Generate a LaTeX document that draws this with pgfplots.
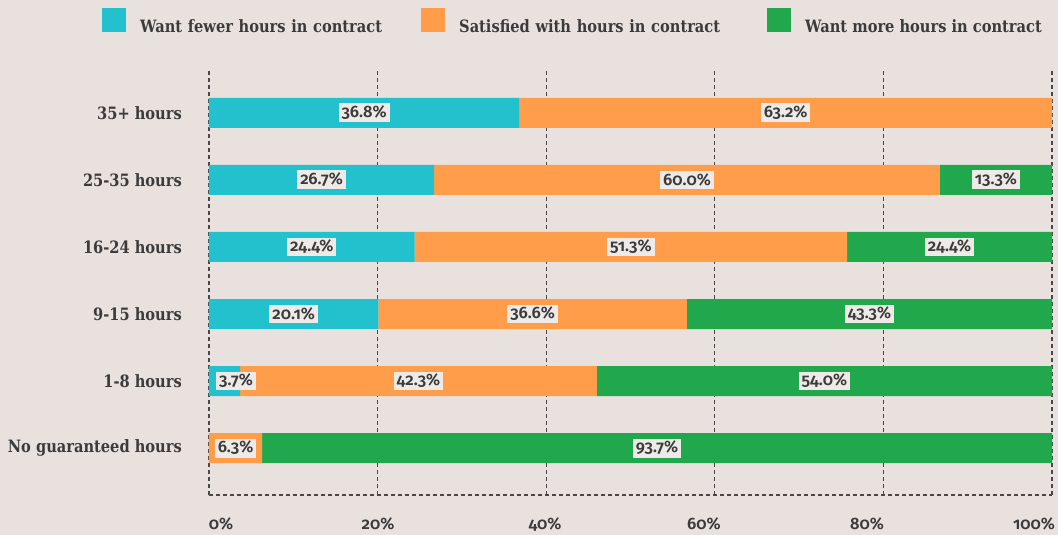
\documentclass[border=0pt]{standalone}
\usepackage{fontspec}
\setmainfont{DejaVu Serif}[FakeStretch=0.86]
\newfontfamily\numfont{Fira Sans SemiBold}[Numbers=OldStyle]
\usepackage{pgfplots}
\pgfplotsset{compat=1.18}

\definecolor{bg}{HTML}{E8E1DE}
\definecolor{txt}{HTML}{3B3B3B}
\definecolor{gridc}{HTML}{484848}
\definecolor{fewer}{HTML}{22C1CD}
\definecolor{satis}{HTML}{FF9D4A}
\definecolor{more}{HTML}{22A84C}
\definecolor{lblbg}{HTML}{EEEAE7}

% share of workers by contracted hours, stacked to 100
\pgfplotstableread{
y  fewer satis more
0  0     6.3   93.7
1  3.7   42.3  54.0
2  20.1  36.6  43.3
3  24.4  51.3  24.4
4  26.7  60.0  13.3
5  36.8  63.2  0
}\hours

\pgfplotsset{
  base/.style={
    scale only axis, width=843bp, height=425bp,
    xmin=0, xmax=100, ymin=-0.7, ymax=5.64,
  },
}

\begin{document}
\begin{tikzpicture}
\fill[bg] (-209bp,-40bp) rectangle (849bp,495bp);
\useasboundingbox (-209bp,-40bp) rectangle (849bp,495bp);

\begin{axis}[base,
  xbar stacked, bar width=30bp,
  separate axis lines,
  axis x line*=bottom, axis y line*=left,
  x axis line style={gridc, line width=1.3bp, dash pattern=on 4bp off 3bp, -},
  y axis line style={draw=none},
  xmajorgrids,
  major grid style={gridc, line width=1.3bp, dash pattern=on 4bp off 3bp},
  major tick length=0pt,
  xtick={0,20,40,60,80,100},
  xticklabels={},
  % the tick labels are spread edge to edge, a little off the grid lines
  extra x ticks={1.42,20.05,39.86,58.7,78.05,97.86},
  extra x tick labels={0\%,20\%,40\%,60\%,80\%,100\%},
  extra x tick style={grid=none, major tick length=0pt},
  xticklabel style={font=\numfont\fontsize{16.5bp}{16.5bp}\selectfont, text=txt,
    anchor=base, inner sep=0pt, yshift=-34bp},
  ytick={0,...,5},
  yticklabels={No guaranteed hours,1-8 hours,9-15 hours,16-24 hours,25-35 hours,35+ hours},
  yticklabel style={font=\bfseries\fontsize{17bp}{20bp}\selectfont, text=txt,
    anchor=east, inner sep=0pt, xshift=-27bp},
  legend columns=3,
  legend style={draw=none, fill=none, at={(axis description cs:-0.1269,1.146)},
    anchor=north west, inner sep=0pt,
    nodes={inner sep=0pt, text=txt, font=\bfseries\fontsize{17bp}{20bp}\selectfont},
    /tikz/every odd column/.append style={column sep=14bp}},
  legend image code/.code={\fill[#1] (0bp,-5bp) rectangle (24bp,19bp);},
]
\addplot[fill=fewer, draw=none] table[x=fewer, y=y] {\hours};
\addlegendentry[text width=281bp, align=left]{Want fewer hours in contract}
\addplot[fill=satis, draw=none] table[x=satis, y=y] {\hours};
\addlegendentry[text width=308bp, align=left]{Satisfied with hours in contract}
\addplot[fill=more, draw=none] table[x=more, y=y] {\hours};
\addlegendentry[align=left]{Want more hours in contract}
\end{axis}

% value labels at the middle of each segment
\begin{axis}[base, hide axis]
\addplot[only marks, mark=*, mark size=0pt, mark options={draw=none, fill=none},
  point meta=explicit symbolic, nodes near coords,
  nodes near coords style={anchor=center, fill=lblbg, text=txt,
    font=\numfont\fontsize{16.5bp}{16.5bp}\selectfont,
    inner xsep=3bp, inner ysep=2.5bp}]
coordinates {
  (18.4,5) [36.8\%]  (68.4,5) [63.2\%]
  (13.35,4) [26.7\%] (56.7,4) [60.0\%] (93.35,4) [13.3\%]
  (12.2,3) [24.4\%]  (50.05,3) [51.3\%] (87.85,3) [24.4\%]
  (10.05,2) [20.1\%] (38.4,2) [36.6\%] (78.35,2) [43.3\%]
  (3.2,1) [3.7\%]    (24.85,1) [42.3\%] (73.0,1) [54.0\%]
  (3.15,0) [6.3\%]   (53.15,0) [93.7\%]
};
\end{axis}
\end{tikzpicture}
\end{document}
